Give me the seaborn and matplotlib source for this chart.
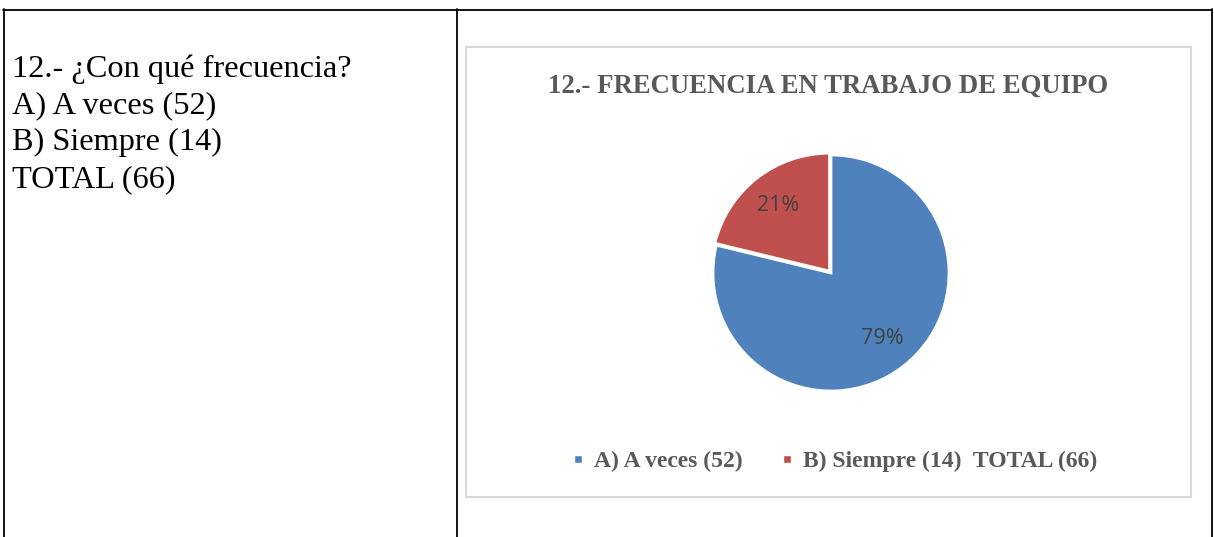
import matplotlib
matplotlib.use("Agg")
import matplotlib.pyplot as plt
import seaborn as sns
from matplotlib.lines import Line2D
from matplotlib.patches import Rectangle

# -----------------------------------------------
# DATOS
# -----------------------------------------------
pregunta = ["12.- ¿Con qué frecuencia?", "A) A veces (52)", "B) Siempre (14)", "TOTAL (66)"]
titulo = "12.- FRECUENCIA EN TRABAJO DE EQUIPO"
categorias = ["A) A veces (52)", "B) Siempre (14)  TOTAL (66)"]
valores = [52, 14]
colores = ["#4F81BD", "#C0504D"]

sns.set_theme(style="white")
plt.rcParams["font.family"] = ["Liberation Serif", "DejaVu Serif"]

W, H = 1214, 537
fig = plt.figure(figsize=(W / 100, H / 100), dpi=100)
fig.patch.set_facecolor("white")

def fx(x):
    return x / W

def fy(y):
    return 1 - y / H

# tabla
for (x0, y0, x1, y1) in [(3, 9.5, 1212, 9.5), (3.5, 9, 3.5, 537), (457, 9, 457, 537), (1212, 9, 1212, 537)]:
    fig.add_artist(Line2D([fx(x0), fx(x1)], [fy(y0), fy(y1)], color="black", lw=1.3))

# texto de la celda izquierda
for i, linea in enumerate(pregunta):
    fig.text(fx(12.5), fy(77 + i * 36.7), linea, fontsize=23.3, color="black", va="baseline", ha="left")

# marco del gráfico
fig.add_artist(Rectangle((fx(466), fy(497)), fx(1191 - 466), (497 - 47) / H,
                         fill=False, edgecolor="#D9D9D9", lw=1.5))

fig.text(fx(828.5), fy(93), titulo, fontsize=19.3, fontweight="bold", color="#595959",
         ha="center", va="baseline")

# pastel
cx, cy, r = 831, 273, 118 * 1.03
ax = fig.add_axes([fx(cx - r), fy(cy + r), 2 * r / W, 2 * r / H])
cunas, etiquetas, pcts = ax.pie(valores, colors=colores, startangle=90, counterclock=False,
                                autopct="%1.0f%%", pctdistance=0.71, explode=[0, 0.02],
                                wedgeprops=dict(edgecolor="white", linewidth=2))
for t in pcts:
    t.set_fontsize(15.5)
    t.set_color("#404040")
    t.set_family(["Open Sans", "DejaVu Sans"])
ax.set_xlim(-1.03, 1.03)
ax.set_ylim(-1.03, 1.03)
ax.axis("off")

# leyenda
manejadores = [Line2D([0], [0], marker="s", color="w", markerfacecolor=c, markersize=6)
               for c in colores]
fig.legend(manejadores, categorias, loc="center", bbox_to_anchor=(fx(834), fy(461)),
           ncol=2, frameon=False, handlelength=0.6, handletextpad=0.35, columnspacing=1.6,
           prop=dict(family=["Liberation Serif"], weight="bold", size=17), labelcolor="#595959")

fig.savefig("out.png", dpi=100)
